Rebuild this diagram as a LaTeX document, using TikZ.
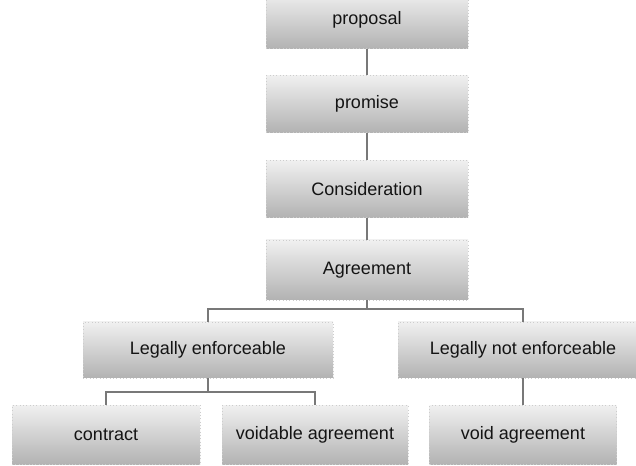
\documentclass[tikz,border=0pt]{standalone}
\usepackage{fontspec}
\setmainfont{Liberation Sans}
\usetikzlibrary{positioning}

\tikzset{every picture/.style={line width=0.75pt}}
\tikzset{
  box/.style={draw={rgb,255:red,205;green,205;blue,205}, line width=0.5pt, dotted,
    top color={rgb,255:red,240;green,240;blue,240}, bottom color={rgb,255:red,178;green,178;blue,178},
    minimum height=42.75pt, inner sep=0.75pt, font=\fontsize{13.5}{16}\selectfont, text={rgb,255:red,20;green,20;blue,20}},
  link/.style={draw={rgb,255:red,120;green,120;blue,120}, line width=1.5pt}
}

\begin{document}
\begin{tikzpicture}[x=0.75pt,y=0.75pt,yscale=-1,xscale=1]
\useasboundingbox (0,0) rectangle (636,466);

%Boxes
\node [box, minimum width=151.5pt] (proposal) at (367,20) {proposal};
\node [box, minimum width=151.5pt] (promise) at (367,104) {promise};
\node [box, minimum width=151.5pt] (consid) at (367,189) {Consideration};
\node [box, minimum width=151.5pt, minimum height=45pt] (agree) at (367,270) {Agreement};
\node [box, minimum width=187.5pt, minimum height=42pt] (legal) at (208,350) {Legally enforceable};
\node [box, minimum width=187.5pt, minimum height=42pt] (notlegal) at (523,350) {Legally not enforceable};
\node [box, minimum width=141pt, minimum height=44.25pt] (contract) at (106,435) {contract};
\node [box, minimum width=139.5pt, minimum height=44.25pt] (voidable) at (315,435) {voidable agreement};
\node [box, minimum width=140.25pt, minimum height=44.25pt] (void) at (523,435) {void agreement};

%Connectors
\draw [link] (proposal) -- (promise);
\draw [link] (promise) -- (consid);
\draw [link] (consid) -- (agree);
\draw [link] (agree.south) -- ++(0,9) -| (legal.north);
\draw [link] (agree.south) -- ++(0,9) -| (notlegal.north);
\draw [link] (legal.south) -- ++(0,14) -| (contract.north);
\draw [link] (legal.south) -- ++(0,14) -| (voidable.north);
\draw [link] (notlegal) -- (void);

\end{tikzpicture}
\end{document}
